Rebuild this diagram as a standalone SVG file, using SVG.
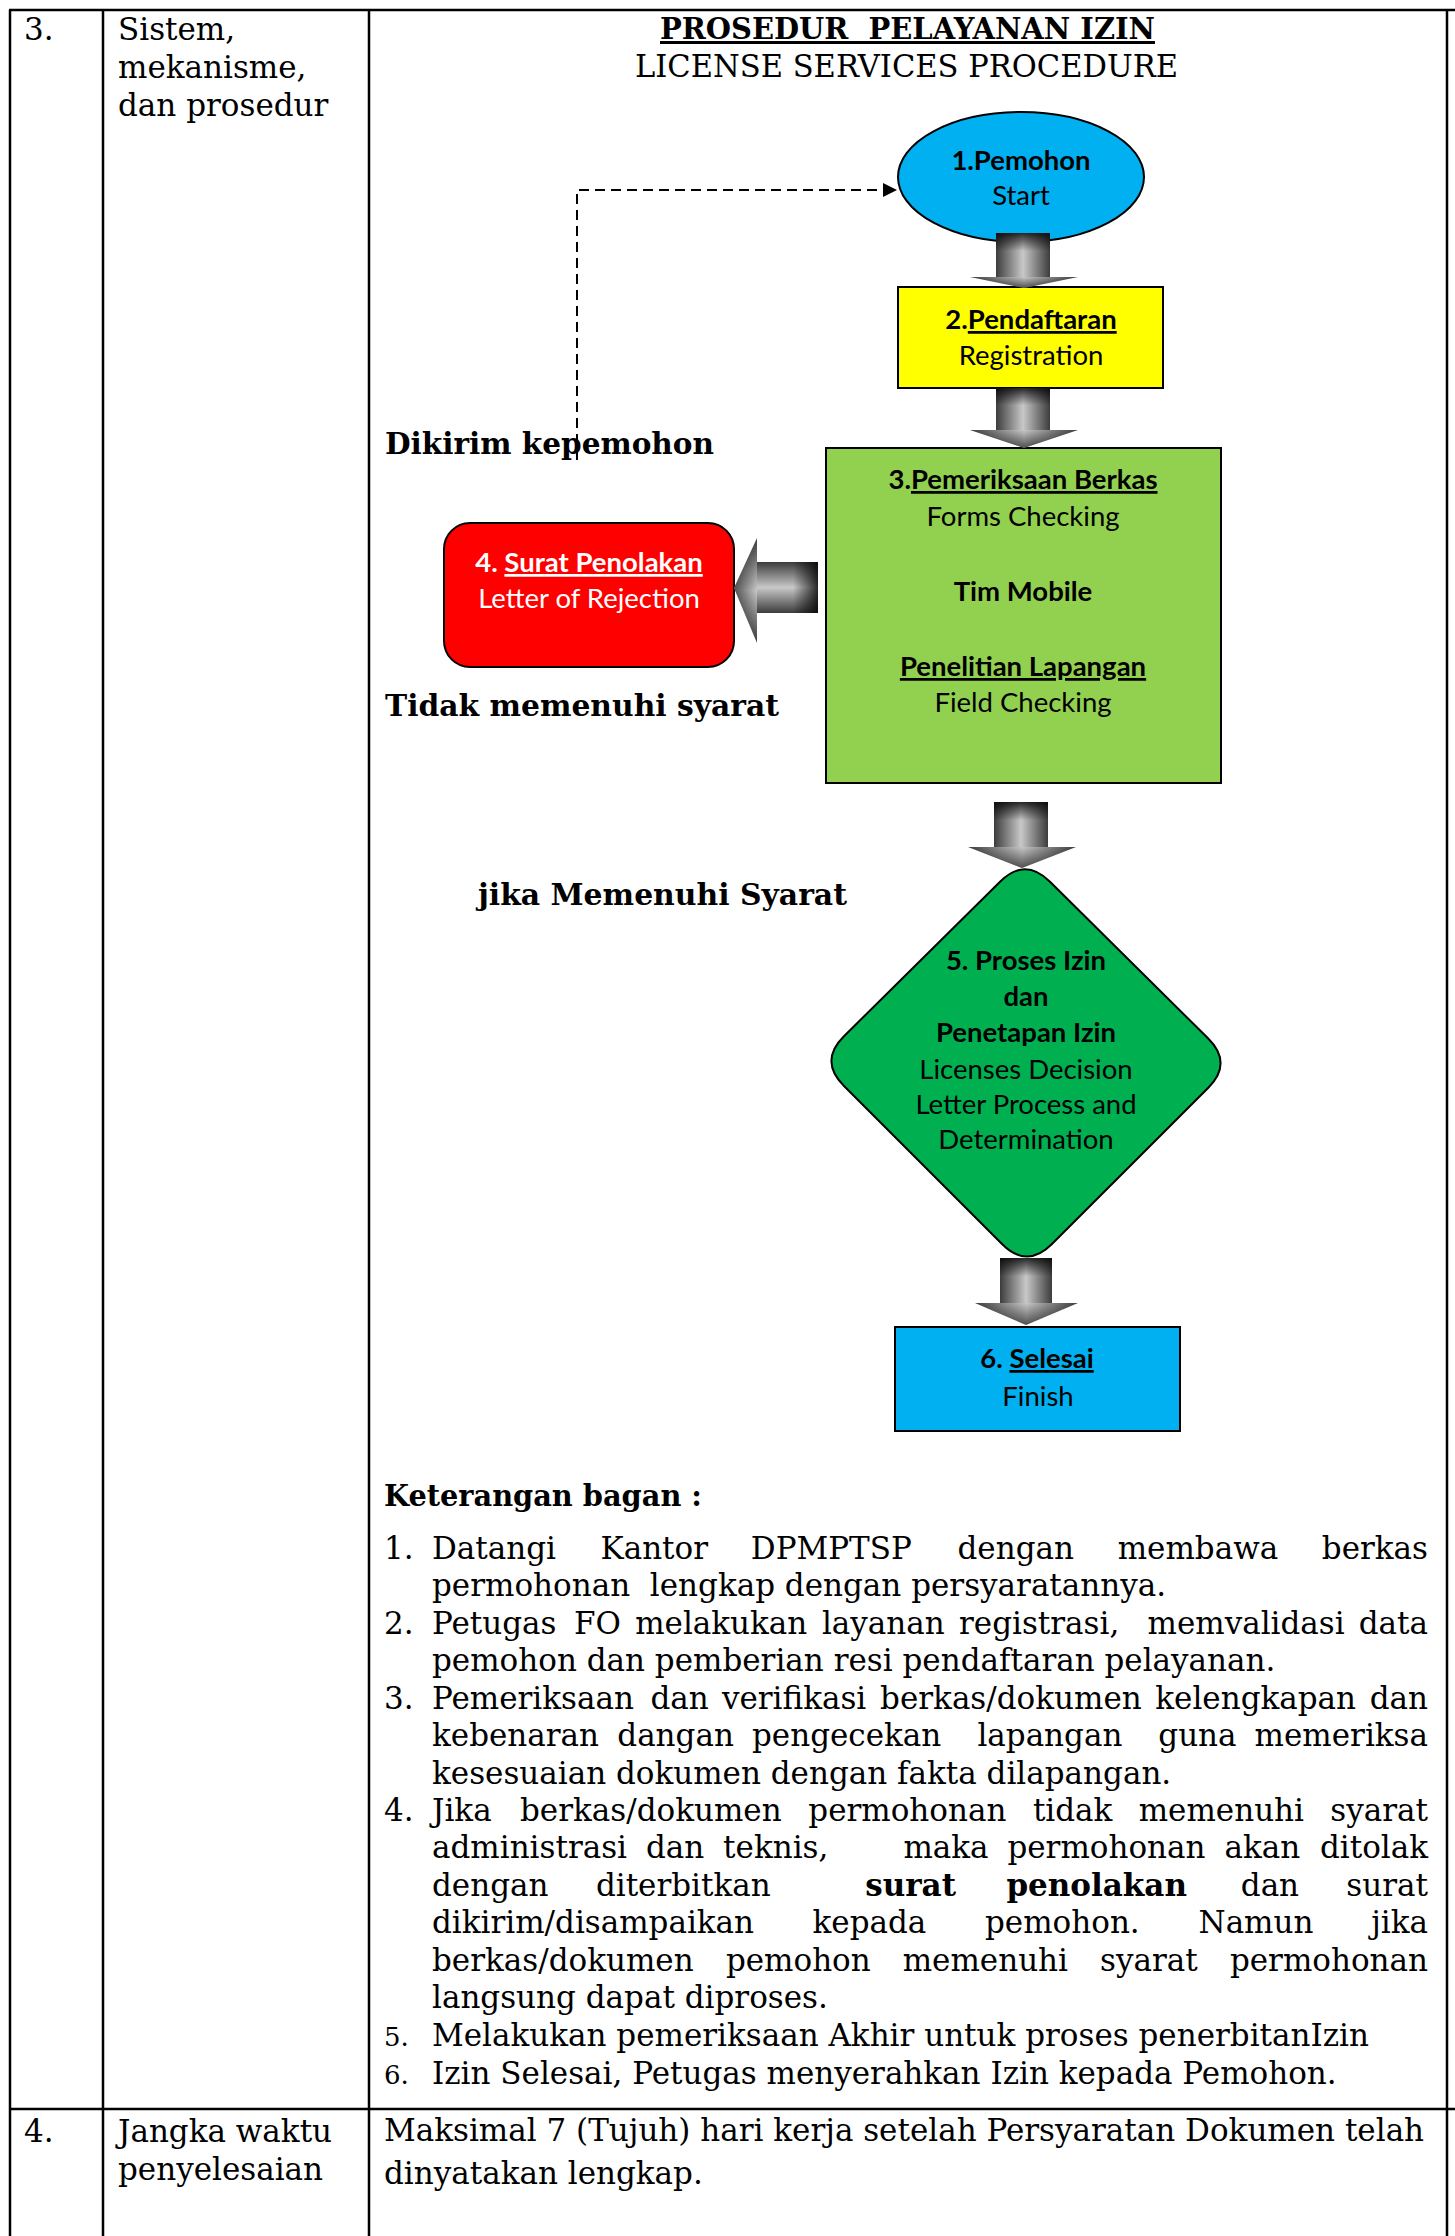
<svg xmlns="http://www.w3.org/2000/svg" width="1455" height="2236" viewBox="0 0 1455 2236">
<style>
.t{font-family:"DejaVu Serif","Liberation Serif",serif;font-size:31px;fill:#000}
.tb{font-family:"DejaVu Serif","Liberation Serif",serif;font-size:30px;font-weight:bold;fill:#000}
.sm{font-family:"DejaVu Serif","Liberation Serif",serif;font-size:26px;fill:#000}
.s{font-family:Lato,"Open Sans",sans-serif;font-size:27.5px;fill:#000;text-anchor:middle}
.sb{font-family:Lato,"Open Sans",sans-serif;font-size:27.5px;font-weight:bold;fill:#000;text-anchor:middle}
.w{fill:#fff}
.u{text-decoration:underline}
.e{text-anchor:end}
.grid{stroke:#000;stroke-width:2.5;fill:none}
.node{stroke:#000;stroke-width:2}
.dash{stroke:#000;stroke-width:2;fill:none;stroke-dasharray:10 6}
</style>
<defs>
<linearGradient id="gH" x1="0" y1="0" x2="1" y2="0">
<stop offset="0" stop-color="#3c3c3c"/><stop offset="0.5" stop-color="#c8c8c8"/><stop offset="1" stop-color="#3c3c3c"/>
</linearGradient>
<linearGradient id="gV" x1="0" y1="0" x2="0" y2="1">
<stop offset="0" stop-color="#3c3c3c"/><stop offset="0.5" stop-color="#c8c8c8"/><stop offset="1" stop-color="#3c3c3c"/>
</linearGradient>
<linearGradient id="gTop" x1="0" y1="0" x2="0" y2="1">
<stop offset="0" stop-color="#000" stop-opacity="0.8"/><stop offset="0.4" stop-color="#000" stop-opacity="0"/>
</linearGradient>
<linearGradient id="gBot" x1="0" y1="0" x2="0" y2="1">
<stop offset="0" stop-color="#000" stop-opacity="0"/><stop offset="1" stop-color="#000" stop-opacity="0.6"/>
</linearGradient>
<linearGradient id="gRight" x1="0" y1="0" x2="1" y2="0">
<stop offset="0.6" stop-color="#000" stop-opacity="0"/><stop offset="1" stop-color="#000" stop-opacity="0.8"/>
</linearGradient>
<linearGradient id="gLeft" x1="0" y1="0" x2="1" y2="0">
<stop offset="0" stop-color="#000" stop-opacity="0.6"/><stop offset="1" stop-color="#000" stop-opacity="0"/>
</linearGradient>
<marker id="ah" viewBox="0 0 14 14" refX="14" refY="7" markerWidth="14" markerHeight="14" markerUnits="userSpaceOnUse" orient="auto">
<path d="M0,0 L14,7 L0,14 Z" fill="#000"/>
</marker>
</defs>

<g id="table">
<line class="grid" x1="9" y1="10" x2="1455" y2="10"/>
<line class="grid" x1="10" y1="10" x2="10" y2="2236"/>
<line class="grid" x1="103" y1="10" x2="103" y2="2236"/>
<line class="grid" x1="369" y1="10" x2="369" y2="2236"/>
<line class="grid" x1="1447" y1="10" x2="1447" y2="2236"/>
<line class="grid" x1="9" y1="2109" x2="1455" y2="2109"/>
<text class="t" x="24" y="40">3.</text>
<text class="t" x="118" y="40">Sistem,</text>
<text class="t" x="118" y="78">mekanisme,</text>
<text class="t" x="118" y="116">dan prosedur</text>
<text class="t" x="24" y="2142">4.</text>
<text class="t" x="118" y="2142">Jangka waktu</text>
<text class="t" x="118" y="2180">penyelesaian</text>
<text class="t" x="384" y="2141">Maksimal 7 (Tujuh) hari kerja setelah Persyaratan Dokumen telah</text>
<text class="t" x="384" y="2184">dinyatakan lengkap.</text>
</g>

<g id="title">
<text class="tb u" x="660" y="39" textLength="495" lengthAdjust="spacingAndGlyphs" xml:space="preserve">PROSEDUR  PELAYANAN IZIN</text>
<text class="t" x="635" y="77" textLength="543" lengthAdjust="spacingAndGlyphs">LICENSE SERVICES PROCEDURE</text>
</g>

<g id="n1">
<ellipse class="node" cx="1021" cy="177" rx="123" ry="65" fill="#00B0F0"/>
<text class="sb" x="1021" y="170">1.Pemohon</text>
<text class="s" x="1021" y="205">Start</text>
</g>

<g id="n2">
<rect class="node" x="898" y="287" width="265" height="101" fill="#FFFF00"/>
<text class="sb" x="1031" y="329">2.<tspan class="u">Pendaftaran</tspan></text>
<text class="s" x="1031" y="365">Registration</text>
</g>

<g id="n3">
<rect class="node" x="826" y="448" width="395" height="335" fill="#92D050" stroke="#222"/>
<text class="sb" x="1023" y="489">3.<tspan class="u">Pemeriksaan Berkas</tspan></text>
<text class="s" x="1023" y="526">Forms Checking</text>
<text class="sb" x="1023" y="601">Tim Mobile</text>
<text class="sb u" x="1023" y="676">Penelitian Lapangan</text>
<text class="s" x="1023" y="712">Field Checking</text>
</g>

<g id="n4">
<rect class="node" x="444" y="523" width="290" height="144" rx="26" ry="26" fill="#FF0000"/>
<text class="sb w" x="589" y="572">4. <tspan class="u">Surat Penolakan</tspan></text>
<text class="s w" x="589" y="608">Letter of Rejection</text>
</g>

<g id="n5">
<path class="node" fill="#00B050" d="M1050,881.7 L1208,1038.3 Q1233,1063 1208.3,1087.7 L1051.7,1244.3 Q1027,1269 1002,1244 L844,1086 Q819,1061 843.7,1036.5 L1000.3,881.5 Q1025,857 1050,881.7 Z"/>
<text class="sb" x="1026" y="970">5. Proses Izin</text>
<text class="sb" x="1026" y="1006">dan</text>
<text class="sb" x="1026" y="1042">Penetapan Izin</text>
<text class="s" x="1026" y="1079">Licenses Decision</text>
<text class="s" x="1026" y="1114">Letter Process and</text>
<text class="s" x="1026" y="1149">Determination</text>
</g>

<g id="n6">
<rect class="node" x="895" y="1327" width="285" height="104" fill="#00B0F0" stroke="#1a1a1a"/>
<text class="sb" x="1037" y="1368">6. <tspan class="u">Selesai</tspan></text>
<text class="s" x="1038" y="1406">Finish</text>
</g>

<g id="labels">
<text class="tb" x="385" y="454" textLength="329" lengthAdjust="spacingAndGlyphs">Dikirim kepemohon</text>
<text class="tb" x="385" y="716" textLength="394" lengthAdjust="spacingAndGlyphs">Tidak memenuhi syarat</text>
<text class="tb" x="478" y="905" textLength="369" lengthAdjust="spacingAndGlyphs">jika Memenuhi Syarat</text>
</g>

<g id="connectors">
<rect x="996" y="233" width="54" height="45" fill="url(#gH)"/>
<rect x="996" y="233" width="54" height="45" fill="url(#gTop)"/>
<polygon points="970,277 1078,277 1024,288" fill="url(#gH)"/>
<polygon points="970,277 1078,277 1024,288" fill="url(#gBot)"/>
<rect x="996" y="388" width="54" height="43" fill="url(#gH)"/>
<rect x="996" y="388" width="54" height="43" fill="url(#gTop)"/>
<polygon points="970,430 1078,430 1024,448" fill="url(#gH)"/>
<polygon points="970,430 1078,430 1024,448" fill="url(#gBot)"/>
<rect x="756" y="562" width="62" height="51" fill="url(#gV)"/>
<rect x="756" y="562" width="62" height="51" fill="url(#gRight)"/>
<polygon points="757,538 757,643 734,588" fill="url(#gV)"/>
<polygon points="757,538 757,643 734,588" fill="url(#gLeft)"/>
<rect x="994" y="802" width="54" height="46" fill="url(#gH)"/>
<rect x="994" y="802" width="54" height="46" fill="url(#gTop)"/>
<polygon points="968,847 1076,847 1022,868" fill="url(#gH)"/>
<polygon points="968,847 1076,847 1022,868" fill="url(#gBot)"/>
<rect x="1000" y="1258" width="52" height="46" fill="url(#gH)"/>
<rect x="1000" y="1258" width="52" height="46" fill="url(#gTop)"/>
<polygon points="975,1303 1078,1303 1026,1325" fill="url(#gH)"/>
<polygon points="975,1303 1078,1303 1026,1325" fill="url(#gBot)"/>
<path class="dash" d="M577,460 V190 H897" marker-end="url(#ah)"/>
</g>

<g id="notes">
<text class="tb" x="384" y="1506" textLength="318" lengthAdjust="spacingAndGlyphs">Keterangan bagan :</text>

<text class="t" x="384" y="1559">1.</text>
<text class="t" x="432" y="1559">Datangi</text>
<text class="t" x="600.5" y="1559">Kantor</text>
<text class="t" x="750.8" y="1559">DPMPTSP</text>
<text class="t" x="957.5" y="1559">dengan</text>
<text class="t" x="1117.7" y="1559">membawa</text>
<text class="t e" x="1428" y="1559">berkas</text>
<text class="t" x="432" y="1596" xml:space="preserve">permohonan  lengkap dengan persyaratannya.</text>

<text class="t" x="384" y="1634">2.</text>
<text class="t" x="432" y="1634">Petugas</text>
<text class="t" x="574" y="1634">FO</text>
<text class="t" x="635.2" y="1634">melakukan</text>
<text class="t" x="821.9" y="1634">layanan</text>
<text class="t" x="959" y="1634">registrasi,</text>
<text class="t" x="1147.5" y="1634">memvalidasi</text>
<text class="t e" x="1428" y="1634">data</text>
<text class="t" x="432" y="1671">pemohon dan pemberian resi pendaftaran pelayanan.</text>

<text class="t" x="384" y="1709">3.</text>
<text class="t" x="432" y="1709">Pemeriksaan</text>
<text class="t" x="650.4" y="1709">dan</text>
<text class="t" x="721.9" y="1709">verifikasi</text>
<text class="t" x="880.1" y="1709">berkas/dokumen</text>
<text class="t" x="1155.3" y="1709">kelengkapan</text>
<text class="t e" x="1428" y="1709">dan</text>
<text class="t" x="432" y="1746">kebenaran</text>
<text class="t" x="617.3" y="1746">dangan</text>
<text class="t" x="752" y="1746">pengecekan</text>
<text class="t" x="977.4" y="1746">lapangan</text>
<text class="t" x="1158.3" y="1746">guna</text>
<text class="t e" x="1428" y="1746">memeriksa</text>
<text class="t" x="432" y="1784">kesesuaian dokumen dengan fakta dilapangan.</text>

<text class="t" x="384" y="1821">4.</text>
<text class="t" x="432" y="1821">Jika</text>
<text class="t" x="520" y="1821">berkas/dokumen</text>
<text class="t" x="808.3" y="1821">permohonan</text>
<text class="t" x="1032.9" y="1821">tidak</text>
<text class="t" x="1138.7" y="1821">memenuhi</text>
<text class="t e" x="1428" y="1821">syarat</text>
<text class="t" x="432" y="1858">administrasi</text>
<text class="t" x="645.9" y="1858">dan</text>
<text class="t" x="723.1" y="1858">teknis,</text>
<text class="t" x="903.4" y="1858">maka</text>
<text class="t" x="1007.4" y="1858">permohonan</text>
<text class="t" x="1224.6" y="1858">akan</text>
<text class="t e" x="1428" y="1858">ditolak</text>
<text class="t" x="432" y="1896">dengan</text>
<text class="t" x="595.9" y="1896">diterbitkan</text>
<text class="t" x="865.3" y="1896" font-weight="bold">surat</text>
<text class="t" x="1006.4" y="1896" font-weight="bold">penolakan</text>
<text class="t" x="1240.8" y="1896">dan</text>
<text class="t e" x="1428" y="1896">surat</text>
<text class="t" x="432" y="1933">dikirim/disampaikan</text>
<text class="t" x="812.5" y="1933">kepada</text>
<text class="t" x="985" y="1933">pemohon.</text>
<text class="t" x="1198.5" y="1933">Namun</text>
<text class="t e" x="1428" y="1933">jika</text>
<text class="t" x="432" y="1971">berkas/dokumen</text>
<text class="t" x="725.9" y="1971">pemohon</text>
<text class="t" x="902.7" y="1971">memenuhi</text>
<text class="t" x="1100.1" y="1971">syarat</text>
<text class="t e" x="1428" y="1971">permohonan</text>
<text class="t" x="432" y="2008">langsung dapat diproses.</text>

<text class="sm" x="384" y="2046">5.</text>
<text class="t" x="432" y="2046">Melakukan pemeriksaan Akhir untuk proses penerbitanIzin</text>
<text class="sm" x="384" y="2084">6.</text>
<text class="t" x="432" y="2084">Izin Selesai, Petugas menyerahkan Izin kepada Pemohon.</text>
</g>
</svg>
